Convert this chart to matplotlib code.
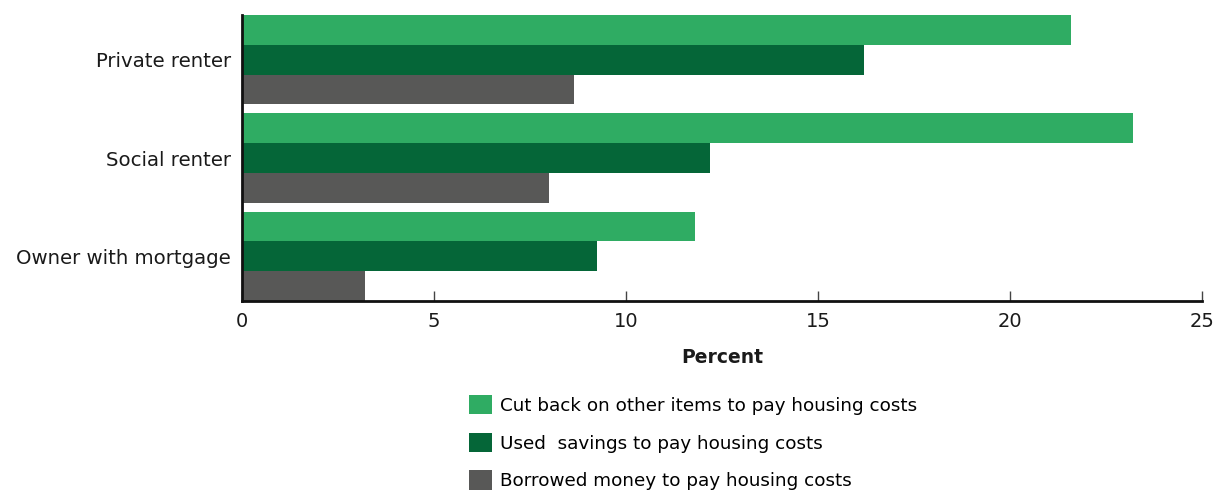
import matplotlib.pyplot as plt
import numpy as np
from matplotlib.patches import Patch

plt.rcParams["font.family"] = ["DejaVu Sans"]

categories = ["Private renter", "Social renter", "Owner with mortgage"]
cut_back = [21.6, 23.2, 11.8]
used_savings = [16.2, 12.2, 9.25]
borrowed = [8.65, 8.0, 3.2]
series_labels = [
    "Cut back on other items to pay housing costs",
    "Used  savings to pay housing costs",
    "Borrowed money to pay housing costs",
]
colors = ["#2fac63", "#056638", "#585857"]

fig = plt.figure(figsize=(12.15, 4.9), dpi=100)
ax = fig.add_axes([242 / 1215, 1 - 301 / 490, 960 / 1215, 286 / 490])

bar_h = 0.303
y = np.arange(len(categories))
for i, (vals, c) in enumerate(zip([cut_back, used_savings, borrowed], colors)):
    ax.barh(y + (i - 1) * bar_h, vals, height=bar_h, color=c, linewidth=0)

ax.set_yticks(y)
ax.set_yticklabels(categories, fontsize=14.2, color="#1a1a1a")
ax.invert_yaxis()
ax.set_ylim(y[-1] + 1.5 * bar_h, y[0] - 1.5 * bar_h)
ax.set_xlim(0, 25)
ax.set_xticks([0, 5, 10, 15, 20, 25])
ax.tick_params(axis="x", direction="in", length=7, width=1, color="#444444",
               labelsize=14, labelcolor="#1a1a1a", pad=8)
ax.tick_params(axis="y", length=0, pad=8)

ax.spines["top"].set_visible(False)
ax.spines["right"].set_visible(False)
ax.spines["left"].set_linewidth(2)
ax.spines["bottom"].set_linewidth(2)
ax.spines["left"].set_color("#111111")
ax.spines["bottom"].set_color("#111111")

ax.set_xlabel("Percent", fontsize=13.5, fontweight="semibold", labelpad=12, color="#1a1a1a")

handles = [Patch(facecolor=c, edgecolor="none") for c in colors]
fig.legend(handles, series_labels, loc="upper left",
           bbox_to_anchor=(469 / 1215, 1 - 395 / 490),
           frameon=False, fontsize=13.2, handlelength=1.25, handleheight=1.25,
           handletextpad=0.45, labelspacing=0.97, borderpad=0, borderaxespad=0)

fig.savefig("out.png", dpi=100)
